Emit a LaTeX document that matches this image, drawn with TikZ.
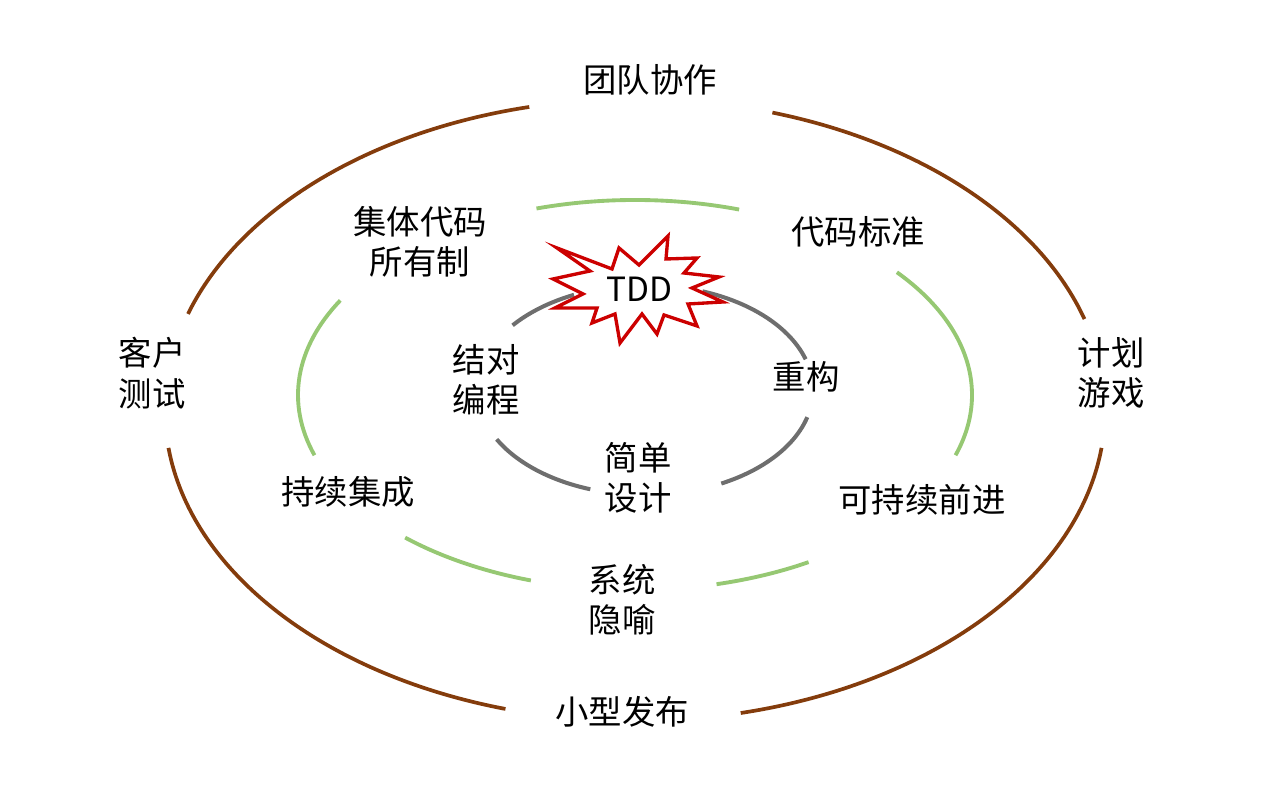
\documentclass[tikz,border=0pt]{standalone}
\usepackage{fontspec}
\newfontfamily\cjk{Noto Sans CJK SC}
\definecolor{marromAnel}{RGB}{132,60,12}
\definecolor{verdeAnel}{RGB}{150,200,115}
\definecolor{cinzaAnel}{RGB}{110,110,110}
\definecolor{vermelhoTDD}{RGB}{204,0,0}
\usepackage{tikz}
\usetikzlibrary{calc}
\tikzset{
  rotulo/.style={font=\cjk\fontsize{19}{23}\selectfont, align=center, inner sep=0pt},
  anelext/.style={line width=2.1pt, marromAnel},
  anelmeio/.style={line width=2.2pt, verdeAnel},
  anelint/.style={line width=2.3pt, cinzaAnel},
  explosao/.style={line width=1.9pt, vermelhoTDD, fill=white, line join=miter},
}

\begin{document}
\begin{tikzpicture}[x=0.02cm, y=0.02cm]
  \useasboundingbox (0,0) rectangle (1282,790);
  % centros dos tres aneis
  \coordinate (ce) at (635,380);
  \coordinate (cm) at (635,395);
  \coordinate (ci) at (645,400);

  % anel externo
  \draw[anelext] ($(ce)+(162:470 and 311)$) arc[start angle=162, end angle=103, x radius=470, y radius=311];
  \draw[anelext] ($(ce)+(73:470 and 311)$) arc[start angle=73, end angle=17, x radius=470, y radius=311];
  \draw[anelext] ($(ce)+(-7:470 and 311)$) arc[start angle=-7, end angle=-77, x radius=470, y radius=311];
  \draw[anelext] ($(ce)+(-106:470 and 311)$) arc[start angle=-106, end angle=-173, x radius=470, y radius=311];

  % anel do meio
  \draw[anelmeio] ($(cm)+(107:337 and 195)$) arc[start angle=107, end angle=72, x radius=337, y radius=195];
  \draw[anelmeio] ($(cm)+(39:337 and 195)$) arc[start angle=39, end angle=-18, x radius=337, y radius=195];
  \draw[anelmeio] ($(cm)+(-59:337 and 195)$) arc[start angle=-59, end angle=-76, x radius=337, y radius=195];
  \draw[anelmeio] ($(cm)+(-108:337 and 195)$) arc[start angle=-108, end angle=-133, x radius=337, y radius=195];
  \draw[anelmeio] ($(cm)+(151:337 and 195)$) arc[start angle=151, end angle=198, x radius=337, y radius=195];

  % anel interno
  \draw[anelint] ($(ci)+(142:168 and 105)$) arc[start angle=142, end angle=115, x radius=168, y radius=105];
  \draw[anelint] ($(ci)+(70:168 and 105)$) arc[start angle=70, end angle=17, x radius=168, y radius=105];
  \draw[anelint] ($(ci)+(-15:168 and 105)$) arc[start angle=-15, end angle=-63, x radius=168, y radius=105];
  \draw[anelint] ($(ci)+(-109:168 and 105)$) arc[start angle=-109, end angle=-152, x radius=168, y radius=105];

  % explosao do TDD
  \begin{scope}[shift={(638,499)}]
    \draw[explosao] (-81,43) -- (-26,22) -- (-19,43) -- (1,26) -- (30,55) -- (28,32)
      -- (59,33) -- (46,18) -- (81,14) -- (54,3) -- (85,-11) -- (50,-13) -- (59,-35)
      -- (26,-24) -- (19,-43) -- (4,-23) -- (-18,-52) -- (-23,-23) -- (-46,-32)
      -- (-41,-17) -- (-83,-17) -- (-55,-3) -- (-85,12) -- (-48,20) -- cycle;
  \end{scope}
  \node[rotulo] (tdd) at (639,501) {TDD};

  % rotulos
  \node[rotulo] (equipe) at (650,710) {团队协作};
  \node[rotulo] (cliente) at (152,417) {客户\\测试};
  \node[rotulo] (plano) at (1111,417) {计划\\游戏};
  \node[rotulo] (entrega) at (622,78) {小型发布};
  \node[rotulo] (posse) at (420,548) {集体代码\\所有制};
  \node[rotulo] (padrao) at (858,558) {代码标准};
  \node[rotulo] (integra) at (348,298) {持续集成};
  \node[rotulo] (ritmo) at (922,290) {可持续前进};
  \node[rotulo] (metafora) at (622,190) {系统\\隐喻};
  \node[rotulo] (par) at (486,410) {结对\\编程};
  \node[rotulo] (refator) at (806,413) {重构};
  \node[rotulo] (simples) at (638,312) {简单\\设计};
\end{tikzpicture}
\end{document}
